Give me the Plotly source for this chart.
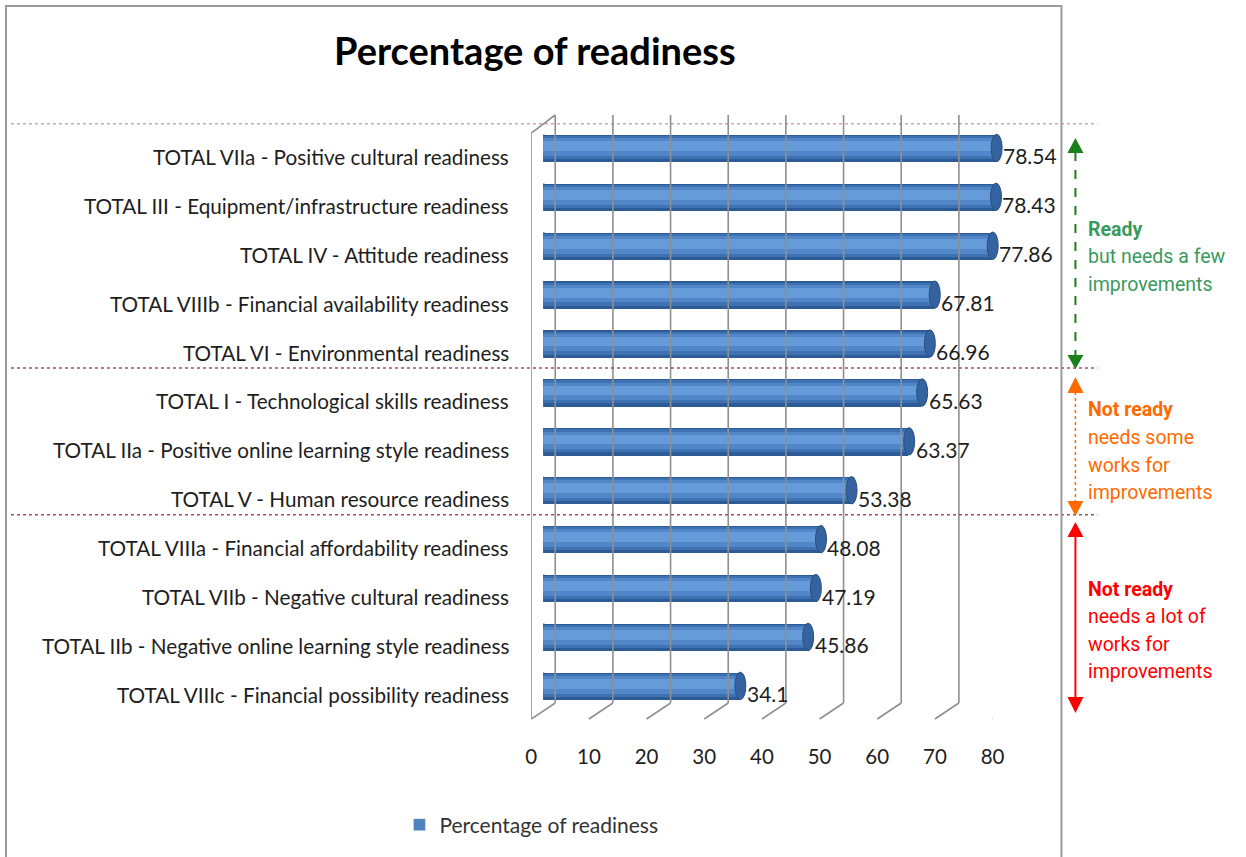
import plotly.graph_objects as go

categories = [
    "TOTAL VIIa - Positive cultural readiness",
    "TOTAL III - Equipment/infrastructure readiness",
    "TOTAL IV - Attitude readiness",
    "TOTAL VIIIb - Financial availability readiness",
    "TOTAL VI - Environmental readiness",
    "TOTAL I - Technological skills readiness",
    "TOTAL IIa - Positive online learning style readiness",
    "TOTAL V - Human resource readiness",
    "TOTAL VIIIa - Financial affordability readiness",
    "TOTAL VIIb - Negative cultural readiness",
    "TOTAL IIb - Negative online learning style readiness",
    "TOTAL VIIIc - Financial possibility readiness",
]
values = [78.54, 78.43, 77.86, 67.81, 66.96, 65.63, 63.37, 53.38, 48.08, 47.19, 45.86, 34.1]
value_labels = ["78.54", "78.43", "77.86", "67.81", "66.96", "65.63", "63.37", "53.38", "48.08", "47.19", "45.86", "34.1"]
tick_values = [0, 10, 20, 30, 40, 50, 60, 70, 80]
series_name = "Percentage of readiness"
group_breaks = [-0.5, 4.5, 7.5]

W, H = 1246, 857
def px(x):
    # horizontal position (reference pixels) -> paper fraction, compensated for render squeeze
    return ((x - 5) / 0.987) / W
def py(y):
    return 1 - y / H

LBL_FONT = "Lato, Open Sans, sans-serif"
NARROW = "Liberation Sans Narrow, Arial Narrow, Roboto, sans-serif"

fig = go.Figure()

# cylinder-like shading via overlaid bars of decreasing width
layers = [
    (0.56, None, "#2D5B95"),
    (0.47, -0.255, "#3F72B2"),
    (0.36, -0.21, "#5187C8"),
    (0.2, -0.15, "#669BD9"),
]
for w, off, col in layers:
    fig.add_trace(go.Bar(
        y=categories, x=values, orientation="h",
        width=w, offset=off,
        marker=dict(color=col, line=dict(width=0)),
        name=series_name, showlegend=False,
        xaxis="x2", yaxis="y", hoverinfo="skip",
    ))
# legend entry with the Excel swatch colour
fig.add_trace(go.Bar(
    y=[None], x=[None], orientation="h", name=series_name,
    marker=dict(color="#4F81BD"), showlegend=True, xaxis="x2", yaxis="y",
))

shapes = []
grid_col = "#8f8f8f"
# back wall gridlines and floor lines
for k in tick_values:
    shapes.append(dict(type="line", xref="x", yref="paper", xsizemode="pixel", xanchor=k,
                       x0=24, x1=24, y0=py(703), y1=py(115),
                       line=dict(color=grid_col, width=1.6)))
    shapes.append(dict(type="line", xref="x", yref="paper", xsizemode="pixel", xanchor=k,
                       x0=0, x1=24, y0=py(719), y1=py(703),
                       line=dict(color=grid_col, width=1.6)))
# left wall front edge and top
shapes.append(dict(type="line", xref="x", yref="paper", xsizemode="pixel", xanchor=0,
                   x0=0, x1=0, y0=py(719), y1=py(133), line=dict(color=grid_col, width=1.6)))
shapes.append(dict(type="line", xref="x", yref="paper", xsizemode="pixel", xanchor=0,
                   x0=0, x1=24, y0=py(133), y1=py(115), line=dict(color=grid_col, width=1.6)))

# bar end caps
for i, v in enumerate(values):
    shapes.append(dict(type="circle", xref="x2", yref="y", xsizemode="pixel", xanchor=v,
                       x0=-5, x1=6, y0=i - 0.28, y1=i + 0.28,
                       fillcolor="#34639F", line=dict(color="#284F83", width=1), layer="above"))
    shapes.append(dict(type="circle", xref="x2", yref="y", xsizemode="pixel", xanchor=0,
                       x0=-5, x1=5, y0=i - 0.28, y1=i + 0.28,
                       fillcolor="#3F72B2", line=dict(width=0), layer="below"))

# dotted group separators
for b in group_breaks:
    shapes.append(dict(type="line", xref="paper", yref="y", x0=px(10), x1=px(1098), y0=b, y1=b,
                       line=dict(color="#A34D73", width=1.5, dash="dot")))

# chart border
shapes.append(dict(type="rect", xref="paper", yref="paper", x0=px(5), x1=px(1062), y0=py(862), y1=py(6),
                   line=dict(color="#9c9c9c", width=2), fillcolor="rgba(0,0,0,0)"))

# right-hand bracket arrows
def vline(x, y0, y1, color, dash, width):
    shapes.append(dict(type="line", xref="paper", yref="paper", x0=px(x), x1=px(x), y0=py(y0), y1=py(y1),
                       line=dict(color=color, width=width, dash=dash)))
def tri(x, tip, base, color):
    path = "M {} {} L {} {} L {} {} Z".format(px(x), py(tip), px(x - 8), py(base), px(x + 8), py(base))
    shapes.append(dict(type="path", xref="paper", yref="paper", path=path, fillcolor=color,
                       line=dict(color=color, width=0)))

ax = 1076
vline(ax, 152, 356, "#1B801B", "dash", 2)
tri(ax, 138, 153, "#1B801B"); tri(ax, 369, 355, "#1B801B")
vline(ax, 392, 502, "#FF6A00", "dot", 1.5)
tri(ax, 377, 393, "#FF6A00"); tri(ax, 516, 501, "#FF6A00")
vline(ax, 536, 698, "#FF0000", "solid", 2)
tri(ax, 522, 537, "#FF0000"); tri(ax, 713, 697, "#FF0000")

annotations = []
# title
annotations.append(dict(text="<b>Percentage of readiness</b>", xref="paper", yref="paper",
                        x=px(535), y=py(50), xanchor="center", yanchor="middle", showarrow=False,
                        font=dict(family=LBL_FONT, size=38, color="#000000")))
# category labels
for c in categories:
    annotations.append(dict(text=c, xref="paper", yref="y", x=px(511), y=c, xanchor="right",
                            yanchor="middle", yshift=-9, showarrow=False,
                            font=dict(family=LBL_FONT, size=20.7, color="#1e1e1e")))
# value labels
for c, v, t in zip(categories, values, value_labels):
    annotations.append(dict(text=t, xref="x2", yref="y", x=v, y=c, xanchor="left", yanchor="middle",
                            xshift=5, yshift=-8, showarrow=False,
                            font=dict(family=LBL_FONT, size=21, color="#1e1e1e")))
# bracket texts, one annotation per line
def bracket_text(lines, y_first, color):
    for j, ln in enumerate(lines):
        txt = "<b>" + ln + "</b>" if j == 0 else ln
        annotations.append(dict(text=txt, xref="paper", yref="paper", x=px(1087),
                                y=py(y_first + 27.6 * j),
                                xanchor="left", yanchor="middle", align="left", showarrow=False,
                                font=dict(family=NARROW, size=19.5, color=color)))
bracket_text(["Ready", "but needs a few", "improvements"], 229, "#3A9A5E")
bracket_text(["Not ready", "needs some", "works for", "improvements"], 410, "#FF6A00")
bracket_text(["Not ready", "needs a lot of", "works for", "improvements"], 589, "#FF0000")

fig.update_layout(
    width=W, height=H,
    margin=dict(l=0, r=0, t=0, b=0),
    paper_bgcolor="white", plot_bgcolor="rgba(0,0,0,0)",
    barmode="overlay", bargap=0,
    xaxis=dict(domain=[px(531), px(993)], range=[0, 80], anchor="free", position=py(742),
               tickvals=tick_values, ticktext=[str(t) for t in tick_values],
               showgrid=False, zeroline=False, showline=False, ticks="",
               tickfont=dict(family=LBL_FONT, size=20.5, color="#1e1e1e"), fixedrange=True),
    xaxis2=dict(domain=[px(543), px(543 + 80 * 5.775)], range=[0, 80], anchor="y",
                visible=False, fixedrange=True),
    yaxis=dict(domain=[py(710.3), py(123.5)], type="category", categoryorder="array",
               categoryarray=categories, range=[11.5, -0.5], visible=False, anchor="x2",
               fixedrange=True),
    legend=dict(x=px(399), y=py(825), xanchor="left", yanchor="middle", orientation="h",
                font=dict(family=LBL_FONT, size=21, color="#333333"), bgcolor="rgba(0,0,0,0)"),
    shapes=shapes, annotations=annotations,
    showlegend=True,
)

fig.write_html("out.html",
               post_script="document.body.style.margin='0';document.body.style.overflow='hidden';")
